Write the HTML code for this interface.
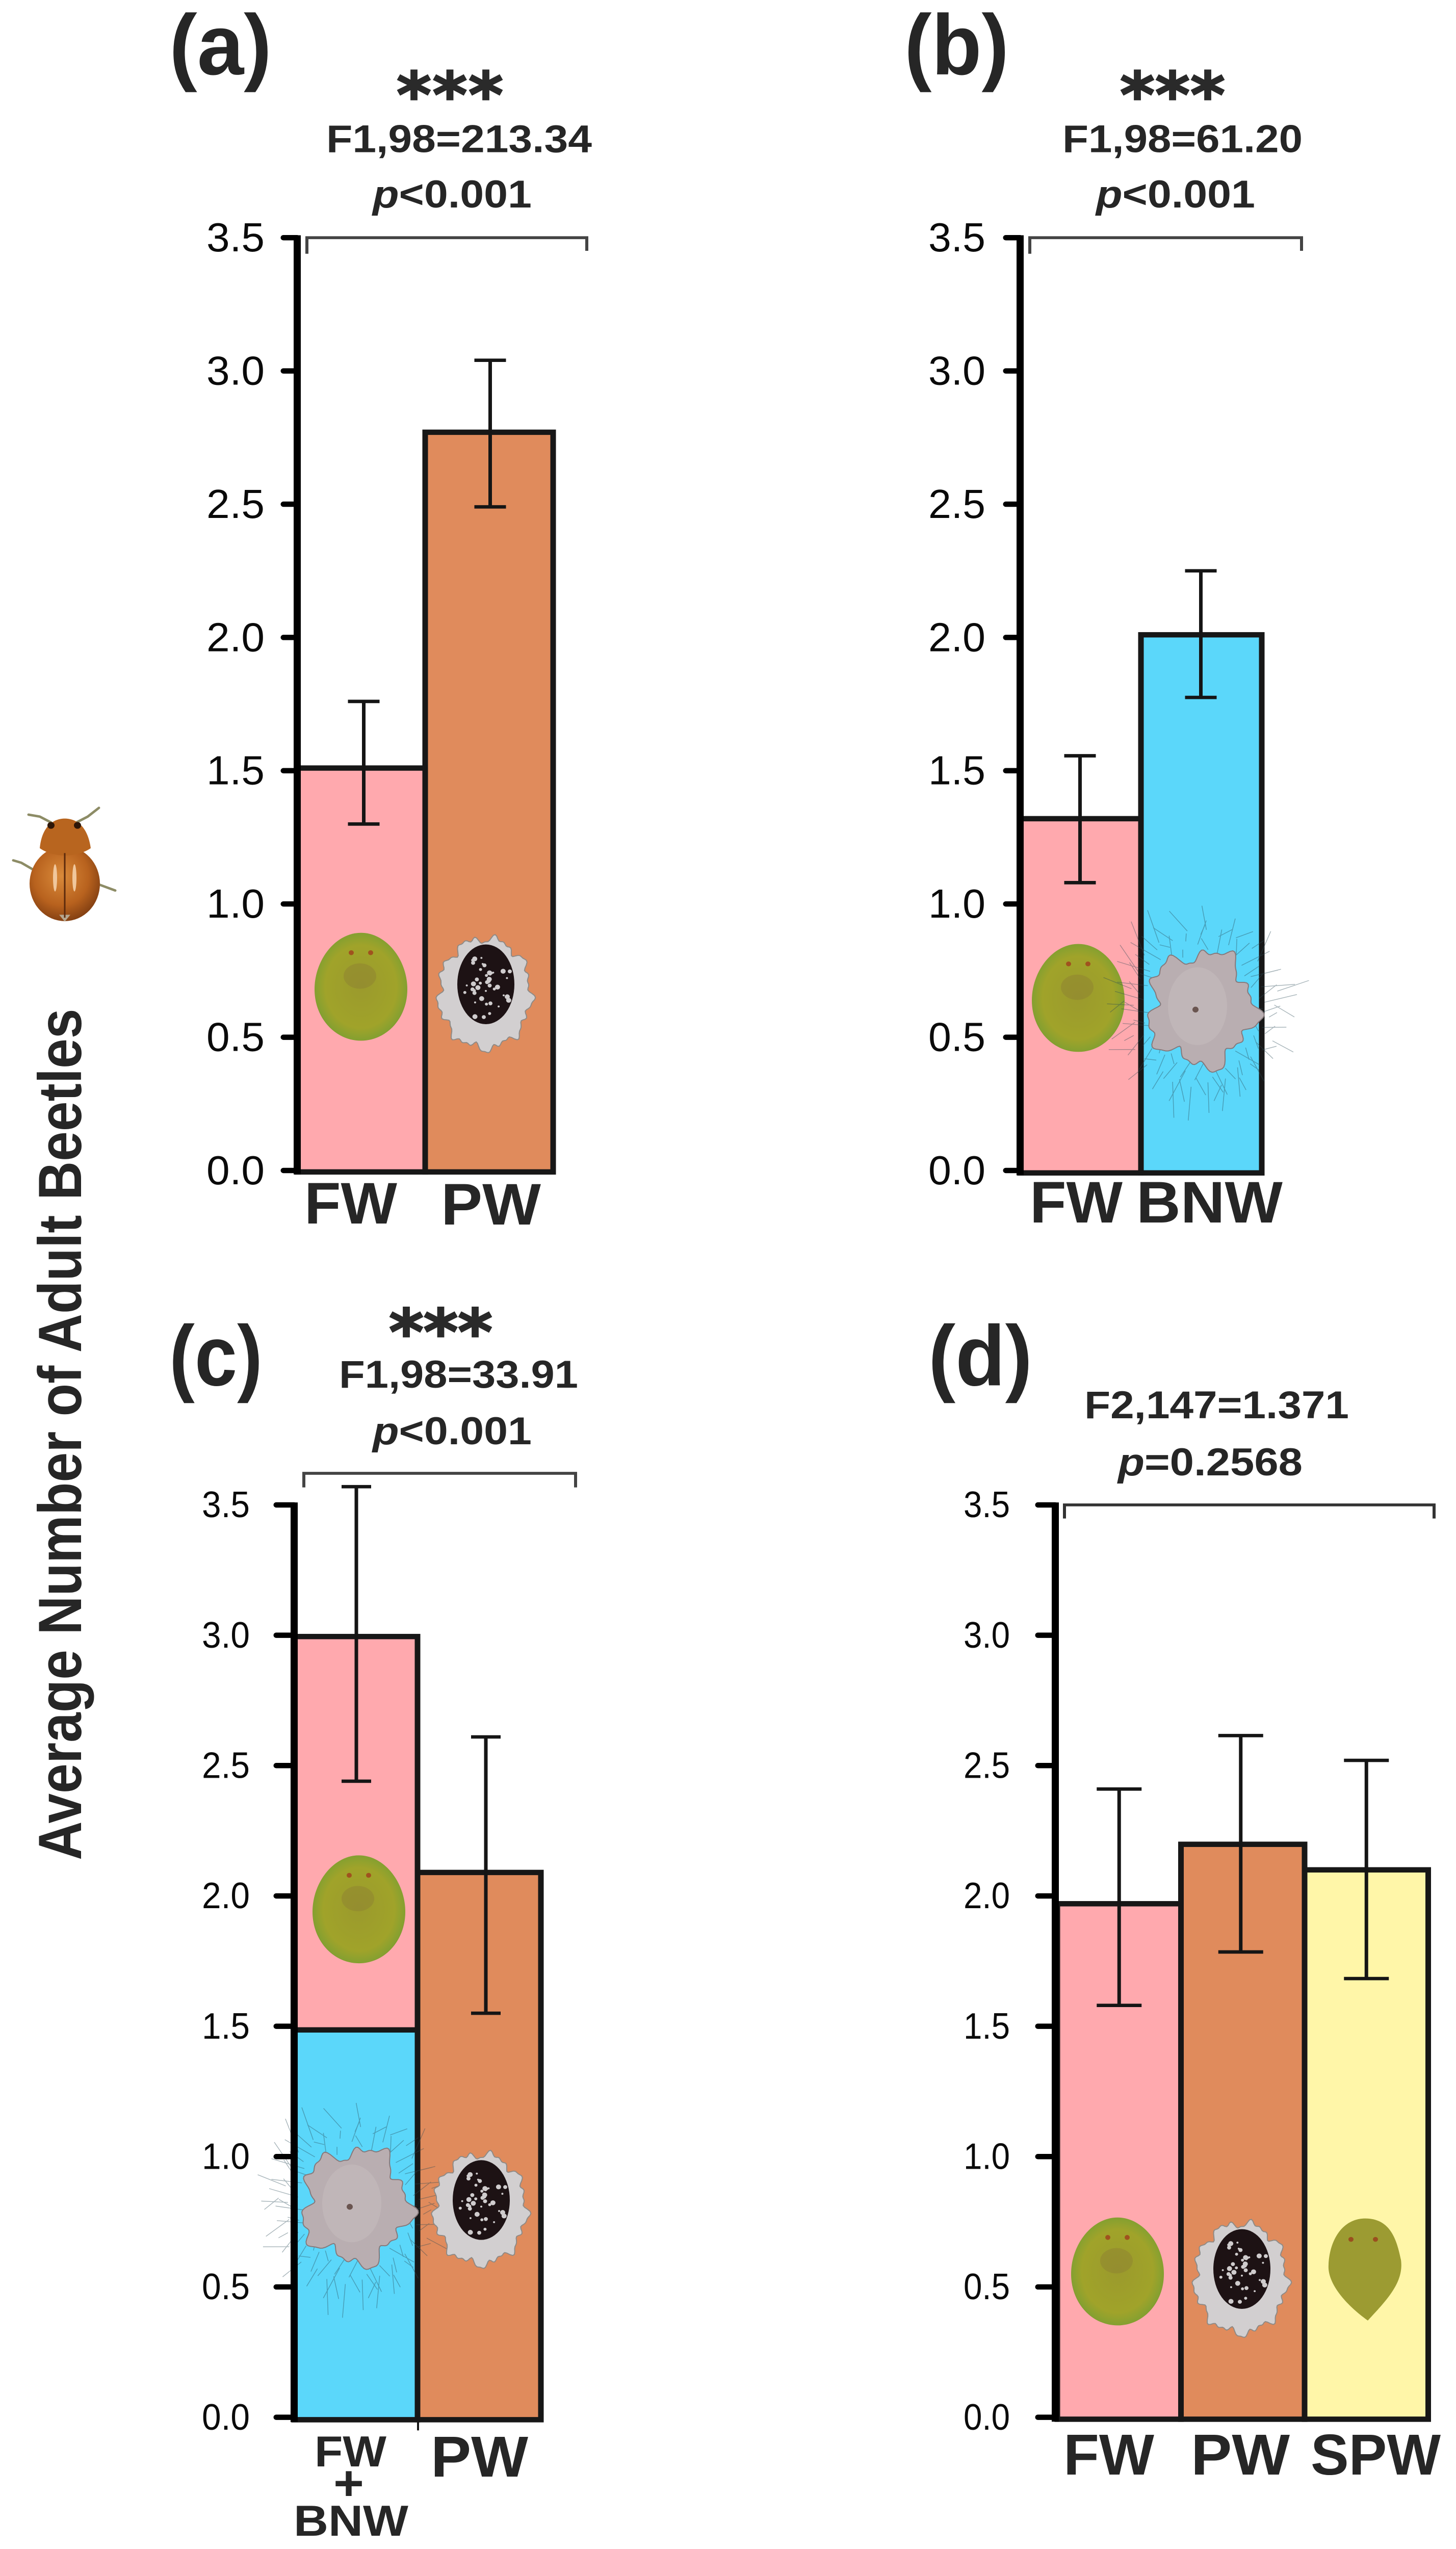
<!DOCTYPE html>
<html lang="en">
<head>
<meta charset="utf-8">
<title>Average Number of Adult Beetles</title>
<style>
html,body{margin:0;padding:0;background:#fff;width:100%;height:100%;overflow:hidden;}
svg{display:block;position:absolute;left:0;top:0;width:100vw;height:100vh;}
.sans{font-family:"Liberation Sans",Arial,sans-serif;}
.head{font-family:"Liberation Sans",Arial,sans-serif;font-weight:700;fill:#262626;}
.stars{font-family:"DejaVu Sans",sans-serif;font-weight:700;fill:#2a2a2a;stroke:#2a2a2a;stroke-width:3;}
</style>
</head>
<body>
<svg id="figure" xmlns="http://www.w3.org/2000/svg" viewBox="0 0 2856 5244" preserveAspectRatio="none">
  <defs>
    <radialGradient id="nymph-grad" cx="50%" cy="50%" r="55%">
      <stop offset="0%" stop-color="#9b9a2c"/>
      <stop offset="70%" stop-color="#a0a32a"/>
      <stop offset="90%" stop-color="#85a030"/>
      <stop offset="100%" stop-color="#6c8428"/>
    </radialGradient>
    <radialGradient id="beetle-grad" cx="45%" cy="40%" r="65%">
      <stop offset="0%" stop-color="#d98a3a"/>
      <stop offset="60%" stop-color="#b8621e"/>
      <stop offset="100%" stop-color="#7a3a10"/>
    </radialGradient>
    <symbol id="nymph" overflow="visible" viewBox="-100 -120 200 240" width="200" height="240">
      <path d="M0,-111 C50,-111 91,-55 91,5 C91,65 50,111 0,111 C-50,111 -91,65 -91,5 C-91,-55 -50,-111 0,-111Z" fill="url(#nymph-grad)"/>
      <ellipse cx="-2" cy="-22" rx="32" ry="26" fill="#8e8232" opacity="0.5"/>
      <circle cx="-19" cy="-70" r="5" fill="#a0521e"/>
      <circle cx="19" cy="-70" r="5" fill="#a0521e"/>
    </symbol>
    <symbol id="spw-nymph" overflow="visible" viewBox="-100 -120 200 240" width="200" height="240">
      <path d="M0,-105 C50,-105 62,-60 70,-20 C76,25 45,60 5,105 C-35,75 -75,30 -72,-10 C-70,-60 -45,-105 0,-105Z" fill="#9c9b32"/>
      <circle cx="-28" cy="-62" r="5" fill="#9a4f1e"/>
      <circle cx="20" cy="-62" r="5" fill="#9a4f1e"/>
    </symbol>
    <symbol id="pw-scale" overflow="visible" viewBox="-120 -140 240 280" width="240" height="280">
      <path id="pw-wax" fill="#d2cfd0" stroke="#8e8a86" stroke-width="2"/>
      <ellipse cx="2" cy="-19" rx="56" ry="82" fill="#1d1214"/>
      <g id="pw-specks" fill="#cfcccd"></g>
    </symbol>
    <symbol id="bnw-scale" overflow="visible" viewBox="-210 -200 420 400" width="420" height="400">
      <g id="bnw-hairs" stroke="#2b4a56" stroke-width="1.5" opacity="0.4" fill="none"></g>
      <path id="bnw-wax" fill="#b9aeb1" stroke="#85787a" stroke-width="2"/>
      <ellipse cx="-8" cy="-5" rx="58" ry="80" fill="#c4babd" opacity="0.6"/>
      <circle cx="-12" cy="2" r="6" fill="#6a5550"/>
    </symbol>
  </defs>

  <rect x="0" y="0" width="2856" height="5244" fill="#ffffff"/>

  <text class="head" font-size="120" textLength="1752" lengthAdjust="spacingAndGlyphs" transform="translate(159,3827) rotate(-90)">Average Number of Adult Beetles</text>

  <g>
    <g stroke="#8d8c66" stroke-width="5" fill="none" stroke-linecap="round">
      <path d="M100,1692 L78,1680 L56,1676"/>
      <path d="M150,1692 L172,1680 L194,1662"/>
      <path d="M70,1792 L42,1775 L26,1770"/>
      <path d="M195,1820 L226,1832"/>
    </g>
    <ellipse cx="127" cy="1818" rx="69" ry="77" fill="url(#beetle-grad)"/>
    <path d="M127,1896 L116,1882 L138,1882Z" fill="#b6a890"/>
    <path d="M78,1745 C82,1700 105,1684 127,1684 C150,1684 172,1700 178,1745 C150,1765 105,1765 78,1745Z" fill="#b8651f"/>
    <line x1="127" y1="1755" x2="127" y2="1888" stroke="#5c2a0c" stroke-width="3"/>
    <ellipse cx="108" cy="1806" rx="4" ry="28" fill="#f0c79c"/>
    <ellipse cx="146" cy="1806" rx="4" ry="28" fill="#f0c79c"/>
    <circle cx="100" cy="1698" r="7" fill="#2d1608"/>
    <circle cx="152" cy="1698" r="7" fill="#2d1608"/>
  </g>

  <!-- Panel headings -->
  <g>
    <text class="head" x="332" y="153" font-size="176" textLength="201" lengthAdjust="spacingAndGlyphs">(a)</text>
    <text class="stars" x="778" y="241" font-size="130" textLength="209" lengthAdjust="spacing">***</text>
    <text class="head" x="640" y="313" font-size="80" textLength="521" lengthAdjust="spacingAndGlyphs">F1,98=213.34</text>
    <text class="head" x="731" y="427" font-size="80" textLength="312" lengthAdjust="spacingAndGlyphs"><tspan font-style="italic">p</tspan>&lt;0.001</text>
  </g>
  <g>
    <text class="head" x="1774" y="153" font-size="176" textLength="205" lengthAdjust="spacingAndGlyphs">(b)</text>
    <text class="stars" x="2197" y="241" font-size="130" textLength="206" lengthAdjust="spacing">***</text>
    <text class="head" x="2084" y="313" font-size="80" textLength="471" lengthAdjust="spacingAndGlyphs">F1,98=61.20</text>
    <text class="head" x="2150" y="427" font-size="80" textLength="312" lengthAdjust="spacingAndGlyphs"><tspan font-style="italic">p</tspan>&lt;0.001</text>
  </g>
  <g>
    <text class="head" x="332" y="2850" font-size="176" textLength="183" lengthAdjust="spacingAndGlyphs">(c)</text>
    <text class="stars" x="763" y="2786" font-size="130" textLength="203" lengthAdjust="spacing">***</text>
    <text class="head" x="665" y="2855" font-size="80" textLength="469" lengthAdjust="spacingAndGlyphs">F1,98=33.91</text>
    <text class="head" x="731" y="2971" font-size="80" textLength="312" lengthAdjust="spacingAndGlyphs"><tspan font-style="italic">p</tspan>&lt;0.001</text>
  </g>
  <g>
    <text class="head" x="1821" y="2850" font-size="176" textLength="204" lengthAdjust="spacingAndGlyphs">(d)</text>
    <text class="head" x="2127" y="2918" font-size="80" textLength="519" lengthAdjust="spacingAndGlyphs">F2,147=1.371</text>
    <text class="head" x="2193" y="3035" font-size="80" textLength="362" lengthAdjust="spacingAndGlyphs"><tspan font-style="italic">p</tspan>=0.2568</text>
  </g>

  <!-- Comparison brackets -->
  <path d="M602,522 V489 H1151 V516" fill="none" stroke="#444" stroke-width="6"/>
  <path d="M2020,522 V489 H2553 V516" fill="none" stroke="#444" stroke-width="6"/>
  <path d="M596,3060 V3031 H1129 V3060" fill="none" stroke="#444" stroke-width="6"/>
  <path d="M2088,3124 V3096 H2813 V3124" fill="none" stroke="#333" stroke-width="6"/>

  <g id="charts"></g>
</svg>

<script>
/* ---- chart data ---- */
const tickValues = [0, 0.5, 1, 1.5, 2, 2.5, 3, 3.5];
const tickLabels = ["0.0", "0.5", "1.0", "1.5", "2.0", "2.5", "3.0", "3.5"];

const categoriesA = ["FW", "PW"];
const valuesA = [1.51, 2.77];
const errLowA = [1.30, 2.49];
const errHighA = [1.76, 3.04];

const categoriesB = ["FW", "BNW"];
const valuesB = [1.32, 2.01];
const errLowB = [1.08, 1.775];
const errHighB = [1.556, 2.25];

const categoriesC = ["FW + BNW", "PW"];
const valuesC = [2.995, 2.09];
const stackLowerC = [1.486, 0];
const errLowC = [2.44, 1.55];
const errHighC = [3.57, 2.61];

const categoriesD = ["FW", "PW", "SPW"];
const valuesD = [1.97, 2.198, 2.10];
const errLowD = [1.58, 1.785, 1.683];
const errHighD = [2.41, 2.615, 2.52];

/* ---- helpers ---- */
const SVGNS = document.getElementById('figure').namespaceURI;
const root = document.getElementById('charts');

function mk(parent, tag, attrs) {
  const el = document.createElementNS(SVGNS, tag);
  for (const k in attrs) el.setAttribute(k, attrs[k]);
  parent.appendChild(el);
  return el;
}

function blobPath(rx, ry, wiggle) {
  let d = '';
  for (let deg = 0; deg < 360; deg += 2) {
    const t = deg * Math.PI / 180;
    const f = wiggle(t);
    d += (deg ? 'L' : 'M') + (rx * f * Math.cos(t)).toFixed(1) + ',' + (ry * f * Math.sin(t)).toFixed(1);
  }
  return d + 'Z';
}

document.getElementById('pw-wax').setAttribute('d', blobPath(96, 120, function (t) {
  return 0.94 + 0.05 * Math.sin(9 * t + 0.5) + 0.035 * Math.sin(17 * t) + 0.025 * Math.sin(31 * t);
}));
document.getElementById('bnw-wax').setAttribute('d', blobPath(116, 130, function (t) {
  return 0.88 + 0.10 * Math.sin(5 * t + 1) + 0.07 * Math.sin(11 * t) + 0.03 * Math.sin(23 * t);
}));
const specks = document.getElementById('pw-specks');
for (let i = 0; i < 44; i++) {
  mk(specks, 'circle', {
    cx: (2 + 46 * Math.sin(i * 2.4) * ((i % 7) / 7 + 0.2)).toFixed(1),
    cy: (-19 + 68 * Math.cos(i * 3.7) * ((i % 5) / 5 + 0.2)).toFixed(1),
    r: 2 + (i % 4)
  });
}
const hairs = document.getElementById('bnw-hairs');
for (let i = 0; i < 90; i++) {
  const a = i * 0.47;
  const r1 = 100 + (i % 6) * 9;
  const r2 = r1 + 14 + (i % 9) * 6;
  const a2 = a + 0.14 * Math.sin(i * 1.3);
  mk(hairs, 'line', {
    x1: (r1 * Math.cos(a) * 1.05).toFixed(1), y1: (r1 * Math.sin(a) * 1.12).toFixed(1),
    x2: (r2 * Math.cos(a2) * 1.05).toFixed(1), y2: (r2 * Math.sin(a2) * 1.12).toFixed(1)
  });
}

function addIcon(parent, panelId, kind, cx, cy) {
  const sizes = {'nymph': [200, 240], 'spw-nymph': [200, 240], 'pw-scale': [240, 280], 'bnw-scale': [420, 400]};
  const s = sizes[kind];
  const el = mk(parent, 'use', {href: '#' + kind, x: cx - s[0] / 2, y: cy - s[1] / 2, width: s[0], height: s[1]});
  
  
}

function addLabel(parent, panelId, text, x, y, size, width) {
  const el = mk(parent, 'text', {class: 'head', x: x, y: y, 'font-size': size, textLength: width, lengthAdjust: 'spacingAndGlyphs'});
  el.textContent = text;
  
  
}

const FILL_PINK = '#ffa9ae', FILL_ORANGE = '#e08b5c', FILL_BLUE = '#5bd7fa', FILL_YELLOW = '#fff6a8';
const INK = '#171717';

function drawPanel(p) {
  const g = mk(root, 'g', {});
  
  

  const yScale = function (v) { return p.y0 - v * (p.y0 - p.y35) / 3.5; };
  const bandX = function (i) { return p.barX0 + i * p.band; };

  /* bars */
  p.values.forEach(function (v, i) {
    const x = bandX(i);
    const yTop = yScale(v);
    const yBottom = p.y0 + p.baseOffset;
    const bar = mk(g, 'rect', {x: x, y: yTop, width: p.band, height: yBottom - yTop, fill: p.fills[i], stroke: INK, 'stroke-width': 11});
    
    
    if (p.lower && p.lower[i] > 0) {
      const yMid = yScale(p.lower[i]);
      const lowerBar = mk(g, 'rect', {x: x, y: yMid, width: p.band, height: yBottom - yMid, fill: p.lowerFill, stroke: INK, 'stroke-width': 11});
      
      
    }
  });

  /* images inside the bars */
  p.icons.forEach(function (ic) { addIcon(g, p.id, ic[0], ic[1], ic[2]); });

  /* error bars */
  p.values.forEach(function (v, i) {
    const cx = bandX(i) + p.band / 2 + p.errDx[i];
    const yLo = yScale(p.lo[i]);
    const yHi = yScale(p.hi[i]);
    const err = mk(g, 'path', {
      d: 'M' + (cx - p.cap) + ',' + yHi + 'H' + (cx + p.cap) + 'M' + cx + ',' + yHi + 'V' + yLo + 'M' + (cx - p.cap) + ',' + yLo + 'H' + (cx + p.cap),
      fill: 'none', stroke: '#151515', 'stroke-width': 7
    });
    
    
  });

  /* y axis */
  const axis = mk(g, 'line', {x1: p.axisX, x2: p.axisX, y1: yScale(3.5) - 5, y2: p.y0 + p.baseOffset + 5, stroke: '#000', 'stroke-width': 14});
  
  
  tickValues.forEach(function (t, i) {
    const y = yScale(t);
    const tick = mk(g, 'line', {x1: p.tickLeft + 5, x2: p.axisX, y1: y, y2: y, stroke: '#000', 'stroke-width': 11, 'stroke-linecap': 'round'});
    
    
    const lab = mk(g, 'text', {
      class: 'sans', x: p.labelRight, y: y + 0.36 * p.tickFont - 2, 'font-size': p.tickFont,
      'text-anchor': 'end', textLength: p.tickWidth, lengthAdjust: 'spacingAndGlyphs', fill: '#0a0a0a'
    });
    lab.textContent = tickLabels[i];
    
    
  });
}

/* ---- layouts ---- */
drawPanel({
  id: 'a', values: valuesA, lo: errLowA, hi: errHighA, fills: [FILL_PINK, FILL_ORANGE],
  axisX: 583, y0: 2408, y35: 489, barX0: 583, band: 251, baseOffset: 3,
  tickLeft: 551, labelRight: 519, tickFont: 84, tickWidth: 114, errDx: [5, 2], cap: 31,
  icons: [['nymph', 708, 2030], ['pw-scale', 951, 2044]]
});
drawPanel({
  id: 'b', values: valuesB, lo: errLowB, hi: errHighB, fills: [FILL_PINK, FILL_BLUE],
  axisX: 2001, y0: 2408, y35: 489, barX0: 2001, band: 237, baseOffset: 5,
  tickLeft: 1968, labelRight: 1933, tickFont: 84, tickWidth: 112, errDx: [-1, -1], cap: 31,
  icons: [['nymph', 2115, 2053], ['bnw-scale', 2357, 2075]]
});
drawPanel({
  id: 'c', values: valuesC, lo: errLowC, hi: errHighC, fills: [FILL_PINK, FILL_ORANGE],
  lower: stackLowerC, lowerFill: FILL_BLUE,
  axisX: 577, y0: 4973, y35: 3096, barX0: 577, band: 242, baseOffset: 5,
  tickLeft: 537, labelRight: 490, tickFont: 76, tickWidth: 94, errDx: [1, 13], cap: 29,
  icons: [['nymph', 704, 3928], ['bnw-scale', 698, 4538], ['pw-scale', 942, 4545]]
});
drawPanel({
  id: 'd', values: valuesD, lo: errLowD, hi: errHighD, fills: [FILL_PINK, FILL_ORANGE, FILL_YELLOW],
  axisX: 2070, y0: 4973, y35: 3096, barX0: 2074, band: 242.5, baseOffset: 4,
  tickLeft: 2031, labelRight: 1981, tickFont: 76, tickWidth: 91, errDx: [0, -4, 0], cap: 44,
  icons: [['nymph', 2192, 4673], ['pw-scale', 2434, 4687], ['spw-nymph', 2678, 4669]]
});

/* ---- category labels ---- */
addLabel(root, 'a', categoriesA[0], 597, 2517, 121, 182);
addLabel(root, 'a', categoriesA[1], 865, 2519, 121, 196);
addLabel(root, 'b', categoriesB[0], 2020, 2515, 121, 182);
addLabel(root, 'b', categoriesB[1], 2229, 2515, 121, 287);
const fwPlusBnw = categoriesC[0].split(' ');
addLabel(root, 'c', fwPlusBnw[0], 617, 5074, 90, 141);
addLabel(root, 'c', fwPlusBnw[1], 654, 5143, 100, 60);
addLabel(root, 'c', fwPlusBnw[2], 576, 5217, 90, 225);
addLabel(root, 'c', categoriesC[1], 845, 5095, 119, 191);
addLabel(root, 'd', categoriesD[0], 2086, 5091, 119, 178);
addLabel(root, 'd', categoriesD[1], 2336, 5091, 119, 194);
addLabel(root, 'd', categoriesD[2], 2571, 5091, 119, 255);

const divTick = mk(root, 'line', {x1: 820, x2: 820, y1: 4978, y2: 5000, stroke: INK, 'stroke-width': 4});


</script>
</body>
</html>
